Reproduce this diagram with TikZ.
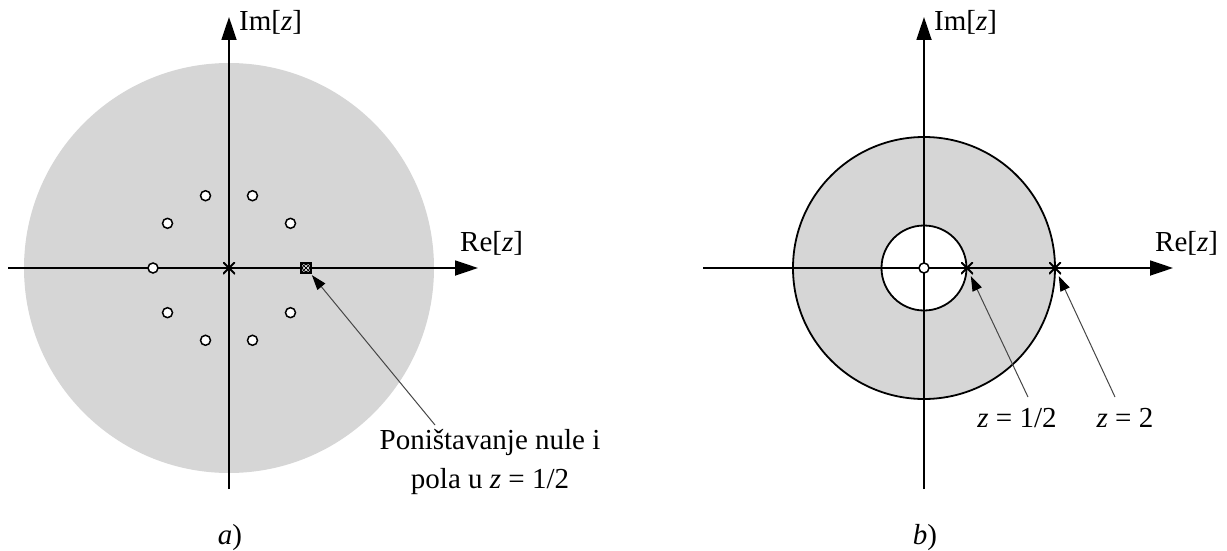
\documentclass[tikz,border=0pt]{standalone}
\usepackage{fontspec}
\setmainfont{Liberation Serif}
\usetikzlibrary{arrows.meta,calc}
\definecolor{rocgray}{RGB}{214,214,214}
\definecolor{leadergray}{RGB}{70,70,70}
\tikzset{
  axis/.style={line width=1.8pt,-{Triangle[length=23pt,width=15pt]}},
  rim/.style={line width=1.8pt},
  zeromark/.style={circle,draw,fill=white,line width=1.5pt,minimum size=10pt,inner sep=0pt},
  polemark/.style={inner sep=0pt,minimum size=12pt,path picture={
      \draw[line width=1.8pt] (path picture bounding box.south west)--(path picture bounding box.north east)
        (path picture bounding box.north west)--(path picture bounding box.south east);}},
  cancelmark/.style={draw,fill=white,line width=1.2pt,inner sep=0pt,minimum size=10pt,path picture={
      \draw[line width=1pt] (path picture bounding box.south west)--(path picture bounding box.north east)
        (path picture bounding box.north west)--(path picture bounding box.south east);
      \draw[line width=1pt] (path picture bounding box.center) circle (3.6pt);}},
  lbl/.style={font=\fontsize{29}{39}\selectfont,inner sep=0pt},
  leaderline/.style={leadergray,line width=1pt,-{Triangle[length=15pt,width=10pt,color=black]},shorten >=2pt},
}
\begin{document}
\begin{tikzpicture}[x=1pt,y=-1pt]
\useasboundingbox (0,0) rectangle (1227,551);
% ---------- (a) ----------
\fill[rocgray] (229,268) circle (205);
\draw[axis] (8,268) -- (478,268);
\draw[axis] (229,489) -- (229,17);
\node[lbl,anchor=west] (rea) at (460,243) {Re[\textit{z}]};
\node[lbl,anchor=west] (ima) at (239,22) {Im[\textit{z}]};
\foreach \k in {1,...,9}{
  \node[zeromark] (za\k) at ($(229,268)+({36*\k}:76)$) {};
}
\node[polemark] (pa0) at (229,268) {};
\node[cancelmark] (ca) at (306,268) {};
\node[lbl,align=center] (ta) at (490,462) {Poništavanje nule i\\pola u \textit{z} = 1/2};
\coordinate (ta1) at (435,425);
\draw[leaderline] (ta1) -- (ca);
\node[lbl] (capa) at (230,538) {\textit{a})};
% ---------- (b) ----------
\fill[rocgray,even odd rule] (924,268) circle (131) (924,268) circle (42.5);
\draw[rim] (924,268) circle (131);
\draw[rim] (924,268) circle (42.5);
\draw[axis] (703,268) -- (1173,268);
\draw[axis] (924,489) -- (924,17);
\node[lbl,anchor=west] (reb) at (1155,243) {Re[\textit{z}]};
\node[lbl,anchor=west] (imb) at (934,22) {Im[\textit{z}]};
\node[zeromark] (zb0) at (924,268) {};
\node[polemark] (pb1) at (967,268) {};
\node[polemark] (pb2) at (1055,268) {};
\node[lbl] (lb1) at (1017,418) {\textit{z} = 1/2};
\node[lbl] (lb2) at (1125,418) {\textit{z} = 2};
\coordinate (lb1a) at (1028,397);
\coordinate (lb2a) at (1115,397);
\draw[leaderline] (lb1a) -- (pb1);
\draw[leaderline] (lb2a) -- (pb2);
\node[lbl] (capb) at (925,538) {\textit{b})};
\end{tikzpicture}
\end{document}
